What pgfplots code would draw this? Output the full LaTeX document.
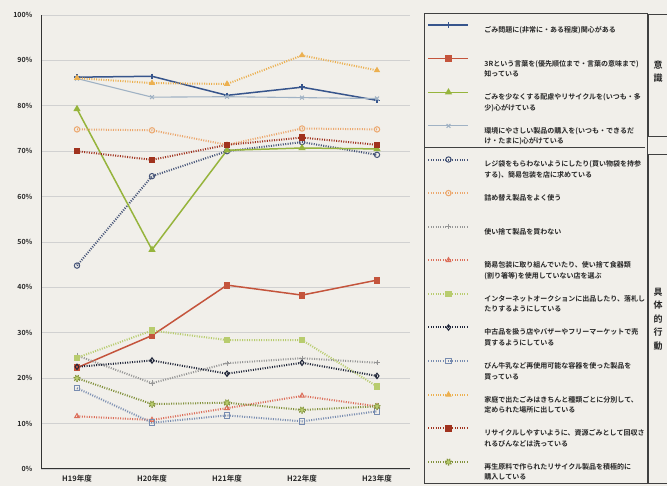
\documentclass[border=0pt]{standalone}
\usepackage{fontspec}
\setmainfont{Noto Sans CJK JP}[BoldFont={Noto Sans CJK JP Bold}]
\usepackage{pgfplots}
\pgfplotsset{compat=1.18}
\definecolor{paper}{RGB}{241,239,234}
\definecolor{cA}{RGB}{55,85,140}
\definecolor{cB}{RGB}{196,84,60}
\definecolor{cC}{RGB}{150,180,60}
\definecolor{cD}{RGB}{160,178,196}
\definecolor{cE}{RGB}{70,84,120}
\definecolor{cF}{RGB}{236,168,110}
\definecolor{cG}{RGB}{150,150,150}
\definecolor{cH}{RGB}{220,110,90}
\definecolor{cI}{RGB}{184,204,110}
\definecolor{cJ}{RGB}{30,36,56}
\definecolor{cK}{RGB}{120,140,176}
\definecolor{cL}{RGB}{236,176,80}
\definecolor{cM}{RGB}{160,50,30}
\definecolor{cN}{RGB}{130,145,60}
\pgfplotsset{
  mylegimg/.style={legend image code/.code={\draw[mark repeat=2,mark phase=2,##1] plot coordinates {(0pt,5.2pt) (20pt,5.2pt) (40pt,5.2pt)};}},
  solidser/.style={line width=1.5pt, mark size=2.7pt, mark options={solid}},
  dotser/.style={line width=2pt, dash pattern=on 1pt off 1.4pt, mark size=2.7pt, mark options={solid, line width=1pt}},
}
\begin{document}
\begin{tikzpicture}[x=1pt,y=1pt]
\useasboundingbox (0,0) rectangle (667,486);
\fill[paper] (0,0) rectangle (667,486);
\begin{axis}[
  at={(41pt,17pt)}, anchor=south west, scale only axis,
  width=369pt, height=454pt,
  xmin=-0.48, xmax=4.44, ymin=0, ymax=100,
  xtick={0,1,2,3,4},
  xticklabels={H19年度,H20年度,H21年度,H22年度,H23年度},
  ytick={0,10,20,30,40,50,60,70,80,90,100},
  yticklabels={0\%,10\%,20\%,30\%,40\%,50\%,60\%,70\%,80\%,90\%,100\%},
  axis x line*=bottom, axis y line*=left,
  axis line style={line width=1pt, black!80},
  ymajorgrids, grid style={black!18, line width=0.8pt},
  major tick length=0pt,
  tick label style={font=\bfseries\fontsize{7}{8}\selectfont, black!85},
  xticklabel style={yshift=-2.5pt, font=\bfseries\fontsize{7.5}{8}\selectfont},
  yticklabel style={xshift=-5pt},
  mylegimg,
  legend cell align=left,
  legend style={at={(1.0379,1.0044)}, anchor=north west,
    draw=black!75, line width=1pt, fill=none,
    inner xsep=3pt, inner ysep=0pt, row sep=0pt,
    /tikz/every odd column/.append style={column sep=15pt},
    nodes={text width=160pt, align=left, minimum height=33.6pt, inner sep=0pt,
      font=\bfseries\fontsize{7}{10.5}\selectfont, text=black!85},
  },
]
\addplot[dotser, color=cE, mark=o, forget plot] coordinates {(0,44.8) (1,64.5) (2,70.0) (3,72.0) (4,69.2)};
\addplot[solidser, color=cA, mark=+] coordinates {(0,86.3) (1,86.5) (2,82.3) (3,84.1) (4,81.2)};
\addlegendentry{ごみ問題に(非常に・ある程度)関心がある\\\mbox{}}
\addplot[solidser, color=cB, mark=square*] coordinates {(0,22.3) (1,29.4) (2,40.5) (3,38.3) (4,41.6)};
\addlegendentry{3Rという言葉を(優先順位まで・言葉の意味まで)\\知っている}
\addplot[solidser, color=cC, mark=triangle*] coordinates {(0,79.3) (1,48.3) (2,70.2) (3,70.7) (4,70.5)};
\addlegendentry{ごみを少なくする配慮やリサイクルを(いつも・多\\少)心がけている}
\addplot[solidser, line width=1.1pt, color=cD, mark=x] coordinates {(0,86.0) (1,81.9) (2,82.0) (3,81.8) (4,81.6)};
\addlegendentry{環境にやさしい製品の購入を(いつも・できるだ\\け・たまに)心がけている}
\addlegendimage{dotser, color=cE, mark=o}
\addlegendentry{レジ袋をもらわないようにしたり(買い物袋を持参\\する)、簡易包装を店に求めている}
\addplot[dotser, color=cF, mark=o] coordinates {(0,74.8) (1,74.6) (2,71.4) (3,75.0) (4,74.8)};
\addlegendentry{詰め替え製品をよく使う\\\mbox{}}
\addplot[dotser, color=cG, mark=+] coordinates {(0,25.0) (1,18.9) (2,23.3) (3,24.4) (4,23.4)};
\addlegendentry{使い捨て製品を買わない\\\mbox{}}
\addplot[dotser, color=cH, mark=triangle] coordinates {(0,11.6) (1,10.8) (2,13.4) (3,16.1) (4,13.8)};
\addlegendentry{簡易包装に取り組んでいたり、使い捨て食器類\\(割り箸等)を使用していない店を選ぶ}
\addplot[dotser, color=cI, mark=square*] coordinates {(0,24.5) (1,30.5) (2,28.4) (3,28.4) (4,18.2)};
\addlegendentry{インターネットオークションに出品したり、落札し\\たりするようにしている}
\addplot[dotser, color=cJ, mark=diamond] coordinates {(0,22.5) (1,23.9) (2,21.0) (3,23.4) (4,20.5)};
\addlegendentry{中古品を扱う店やバザーやフリーマーケットで売\\買するようにしている}
\addplot[dotser, color=cK, mark=square] coordinates {(0,17.8) (1,10.2) (2,11.8) (3,10.5) (4,12.7)};
\addlegendentry{びん牛乳など再使用可能な容器を使った製品を\\買っている}
\addplot[dotser, color=cL, mark=triangle*] coordinates {(0,86.1) (1,85.0) (2,84.8) (3,91.1) (4,87.8)};
\addlegendentry{家庭で出たごみはきちんと種類ごとに分別して、\\定められた場所に出している}
\addplot[dotser, color=cM, mark=square*] coordinates {(0,70.0) (1,68.1) (2,71.4) (3,73.0) (4,71.4)};
\addlegendentry{リサイクルしやすいように、資源ごみとして回収さ\\れるびんなどは洗っている}
\addplot[dotser, color=cN, mark=*, mark options={fill=cI}] coordinates {(0,20.0) (1,14.3) (2,14.6) (3,13.0) (4,13.8)};
\addlegendentry{再生原料で作られたリサイクル製品を積極的に\\購入している}
\end{axis}
\draw[black!75, line width=1pt] (424,338) -- (645,338);
\draw[black!75, line width=1pt] (648,349) rectangle (672,471);
\draw[black!75, line width=1pt] (648,2) rectangle (672,331);
\node[font=\bfseries\fontsize{9}{13}\selectfont, align=center, text=black!85] at (658,414) {意\\識};
\node[font=\bfseries\fontsize{9}{13.5}\selectfont, align=center, text=black!85] at (658,167) {具\\体\\的\\行\\動};
\end{tikzpicture}
\end{document}
